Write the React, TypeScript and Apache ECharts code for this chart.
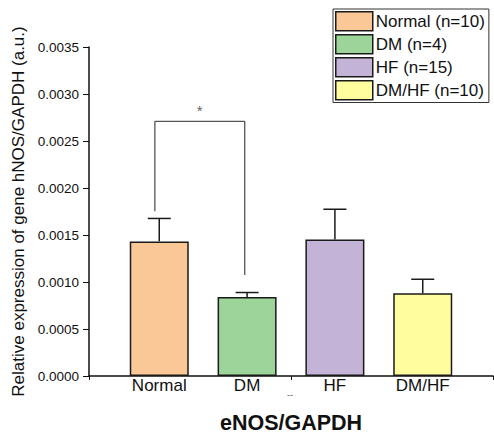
import React, { useEffect, useRef } from "react";
import * as echarts from "echarts";

const categories = ["Normal", "DM", "HF", "DM/HF"];
const positions = [1, 2, 3, 4];
const means = [0.001432, 0.000841, 0.001453, 0.00088];
const sems = [0.000244, 0.000047, 0.000321, 0.000149];
const legendLabels = ["Normal (n=10)", "DM (n=4)", "HF (n=15)", "DM/HF (n=10)"];
const barColors = ["#F9C896", "#9CD49A", "#C3B3D7", "#FFFD9E"];
const bracketX = [0.95, 0.95, 1.973, 1.973];
const bracketY = [0.001753, 0.002708, 0.002708, 0.001074];
const starPoint = [1.461, 0.002708];
const xTickValues = [0.2, 2.5, 4.8];

const FONT = "'Liberation Sans', Arial, Helvetica, sans-serif";

export default function App() {
  const ref = useRef<HTMLDivElement>(null);
  useEffect(() => {
    if (!ref.current) return;
    const chart = echarts.init(ref.current, undefined, { renderer: "svg" });
    const barSeries = categories.map((c, i) => ({
      name: legendLabels[i],
      type: "bar",
      data: [[positions[i], means[i]]],
      barWidth: 59,
      barGap: "-100%",
      itemStyle: { color: barColors[i], borderColor: "#1a1a1a", borderWidth: 1.5 },
      z: 2,
    }));
    chart.setOption({
      animation: false,
      textStyle: { fontFamily: FONT },
      grid: { left: 89, right: 1, top: 47, bottom: 62, containLabel: false },
      legend: {
        data: legendLabels,
        orient: "vertical",
        left: 333,
        top: 9,
        itemWidth: 37,
        itemHeight: 19,
        itemGap: 2.5,
        padding: [2, 4, 2, 2],
        borderColor: "#333",
        borderWidth: 1,
        backgroundColor: "#fff",
        icon: "rect",
        itemStyle: { borderColor: "#1a1a1a", borderWidth: 1.5 },
        textStyle: { fontSize: 17, color: "#111", fontFamily: FONT, padding: [0, 0, 0, -2] },
        selectedMode: false,
      },
      xAxis: {
        type: "value",
        min: 0.2,
        max: 4.8,
        splitLine: { show: false },
        axisLine: { show: true, lineStyle: { color: "#111", width: 1.5 } },
        axisTick: { show: true, customValues: xTickValues, length: 4, lineStyle: { color: "#111", width: 1 } },
        axisLabel: {
          customValues: positions,
          formatter: (v: number) => categories[Math.round(v) - 1] ?? "",
          fontSize: 17,
          color: "#111",
          margin: 1,
          fontFamily: FONT,
        },
        name: "eNOS/GAPDH",
        nameLocation: "middle",
        nameGap: 36,
        nameTextStyle: { fontSize: 21.5, fontWeight: "bold", color: "#111", fontFamily: FONT },
      },
      yAxis: {
        type: "value",
        min: 0,
        max: 0.0035,
        interval: 0.0005,
        splitLine: { show: false },
        axisLine: { show: true, lineStyle: { color: "#111", width: 1.5 } },
        axisTick: { show: true, length: 6, lineStyle: { color: "#111", width: 1 } },
        axisLabel: {
          formatter: (v: number) => v.toFixed(4),
          fontSize: 13.5,
          color: "#111",
          margin: 10,
          fontFamily: FONT,
        },
        name: "Relative expression of gene hNOS/GAPDH (a.u.)",
        nameLocation: "middle",
        nameGap: 54,
        nameTextStyle: { fontSize: 17, color: "#111", fontFamily: FONT },
      },
      series: [
        ...barSeries,
        {
          type: "custom",
          coordinateSystem: "cartesian2d",
          data: positions.map((p, i) => [p, means[i], means[i] + sems[i]]),
          encode: { x: 0, y: 2 },
          z: 3,
          renderItem: (params: any, api: any) => {
            const x = api.value(0);
            const base = api.coord([x, api.value(1)]);
            const top = api.coord([x, api.value(2)]);
            const half = 11.5;
            return {
              type: "group",
              children: [
                { type: "line", shape: { x1: base[0], y1: base[1], x2: top[0], y2: top[1] }, style: { stroke: "#1a1a1a", lineWidth: 1.5 } },
                { type: "line", shape: { x1: top[0] - half, y1: top[1], x2: top[0] + half, y2: top[1] }, style: { stroke: "#1a1a1a", lineWidth: 1.5 } },
              ],
            };
          },
        },
        {
          type: "line",
          data: bracketX.map((x, i) => [x, bracketY[i]]),
          symbol: "none",
          lineStyle: { color: "#555", width: 1.3 },
          z: 4,
        },
        {
          type: "scatter",
          data: [starPoint],
          symbolSize: 0,
          label: { show: true, formatter: "*", position: "top", distance: 3, fontSize: 15, color: "#333", fontFamily: FONT },
          z: 4,
        },
      ],
      graphic: [
        { type: "text", left: 287, top: 390, style: { text: "--", fontSize: 9, fill: "#555", fontFamily: FONT } },
      ],
    });
    return () => chart.dispose();
  }, []);
  return <div ref={ref} style={{ position: "fixed", left: 0, top: 0, width: 494, height: 439, background: "#fff" }} />;
}
